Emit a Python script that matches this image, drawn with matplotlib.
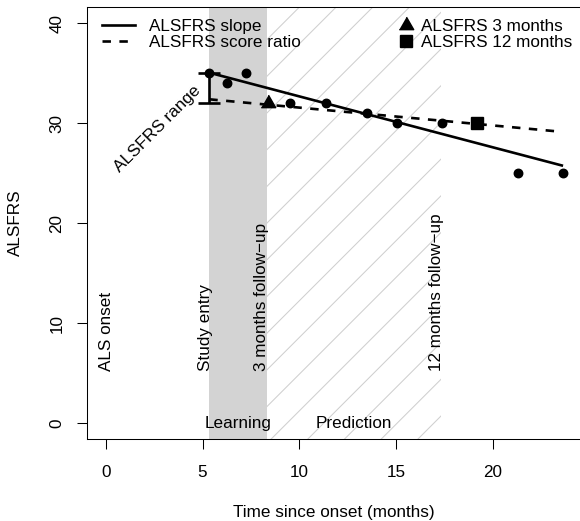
import numpy as np
import matplotlib
matplotlib.use("Agg")
import matplotlib.pyplot as plt
from matplotlib.lines import Line2D
from matplotlib.patches import Rectangle

plt.rcParams['font.family'] = ['Liberation Sans', 'DejaVu Sans']
FS = 12.3

# ---- data ----
obs_month = [5.35, 6.28, 7.23, 9.51, 11.37, 13.47, 15.06, 17.36, 21.27, 23.62]
obs_score = [35, 34, 35, 32, 32, 31, 30, 30, 25, 25]
m3_month = [8.4]
m3_score = [32]
m12_month = [19.2]
m12_score = [30]
slope_x = [5.35, 23.62]
slope_y = [35.06, 25.75]
ratio_x = [5.35, 23.55]
ratio_y = [32.4, 29.15]
range_x = 5.35
range_lo, range_hi = 32, 35
study_entry = 5.33
fu3 = 8.33
fu12 = 17.33
event_labels = ["ALS onset", "Study entry", "3 months follow\u2212up", "12 months follow\u2212up"]
event_label_x = [0.04, 5.13, 8.05, 17.1]
xticks = [0, 5, 10, 15, 20]
yticks = [0, 10, 20, 30, 40]

W, H = 580, 521
fig = plt.figure(figsize=(W / 100, H / 100), dpi=100)
L, R, T, B = 87.3, 580.5, 7.3, 439.3
ax = fig.add_axes([L / W, 1 - B / H, (R - L) / W, (B - T) / H])
ax.set_xlim(-0.95, 24.52)
ax.set_ylim(-1.6, 41.6)

# learning region (gray)
ax.axvspan(study_entry, fu3, color='#D3D3D3', lw=0, zorder=0)

# prediction region (hatched with thin diagonal lines)
clip = Rectangle((fu3, -1.6), fu12 - fu3, 43.2, transform=ax.transData,
                 facecolor='none', edgecolor='none')
ax.add_patch(clip)
td = ax.transData
(x0d, y0d) = td.transform((fu3, -1.6))
(x1d, y1d) = td.transform((fu12, 41.6))
spacing = 36.7
k_start = x0d - y0d + 3.9 - spacing * 20
inv = td.inverted()
for n in range(60):
    k = k_start + n * spacing
    p0 = (y0d - 5 + k, y0d - 5)
    p1 = (y1d + 5 + k, y1d + 5)
    d0 = inv.transform(p0)
    d1 = inv.transform(p1)
    ln, = ax.plot([d0[0], d1[0]], [d0[1], d1[1]], color='#CFCFCF', lw=0.75, zorder=0.5)
    ln.set_clip_path(clip)

DASH = (0, (3.2, 3.2))
# lines
ax.plot(slope_x, slope_y, color='black', lw=1.9, solid_capstyle='butt', zorder=3)
ax.plot(ratio_x, ratio_y, color='black', lw=1.9, linestyle=DASH, zorder=3)

# points
ax.plot(obs_month, obs_score, 'o', color='black', ms=6.1, zorder=4)
tri = [(-1, -0.5774), (1, -0.5774), (0, 1.1547)]
ax.plot(m3_month, m3_score, linestyle='none', marker=tri, color='black', ms=12, zorder=4)
ax.plot(m12_month, m12_score, 's', color='black', ms=8.1, zorder=4)

# range bar
ax.errorbar([range_x], [(range_lo + range_hi) / 2], yerr=[[(range_hi - range_lo) / 2]],
            fmt='none', ecolor='black', elinewidth=1.9, capsize=8, capthick=1.9, zorder=3)
ax.text(2.67, 29.4, "ALSFRS range", rotation=45, rotation_mode='anchor',
        ha='center', va='center', fontsize=FS)

# event labels
for lab, xx in zip(event_labels, event_label_x):
    ax.text(xx, 5.2, lab, rotation=90, ha='center', va='bottom', fontsize=FS)

ax.text((study_entry + fu3) / 2, 0, "Learning", ha='center', va='center', fontsize=FS)
ax.text((fu3 + fu12) / 2, 0, "Prediction", ha='center', va='center', fontsize=FS)

# axes styling
ax.set_xticks(xticks)
ax.set_yticks(yticks)
ax.set_yticklabels([str(v) for v in yticks], rotation=90, va='center')
ax.tick_params(length=7.2, width=0.75, direction='out', labelsize=FS)
ax.tick_params(axis='x', pad=11)
ax.tick_params(axis='y', pad=9.3)
for s in ax.spines.values():
    s.set_linewidth(0.75)
ax.set_xlabel("Time since onset (months)", fontsize=FS)
ax.set_ylabel("ALSFRS", fontsize=FS)
ax.xaxis.label.set_va('center')
ax.yaxis.label.set_va('center')
ax.xaxis.set_label_coords((334 - L) / (R - L), -(512.7 - B) / (B - T))
ax.yaxis.set_label_coords((15 - L) / (R - L), (B - 223) / (B - T))

# legends
h1 = [Line2D([], [], color='black', lw=1.9),
      Line2D([], [], color='black', lw=1.9, linestyle=DASH)]
leg1 = ax.legend(h1, ["ALSFRS slope", "ALSFRS score ratio"], loc='upper left',
                 bbox_to_anchor=((101.7 - L) / (R - L), 1 - (18.7 - T) / (B - T)),
                 frameon=False, fontsize=FS, handlelength=1.95, handletextpad=0.84,
                 labelspacing=0.08, borderpad=0, borderaxespad=0)
ax.add_artist(leg1)
h2 = [Line2D([], [], linestyle='none', marker=tri, color='black', ms=12),
      Line2D([], [], linestyle='none', marker='s', color='black', ms=8.1)]
ax.legend(h2, ["ALSFRS 3 months", "ALSFRS 12 months"], loc='upper left',
          bbox_to_anchor=((398.7 - L) / (R - L), 1 - (18.7 - T) / (B - T)),
          frameon=False, fontsize=FS, handlelength=0.8, handletextpad=0.49,
          labelspacing=0.08, borderpad=0, borderaxespad=0, numpoints=1)

fig.savefig("out.png", dpi=100)
